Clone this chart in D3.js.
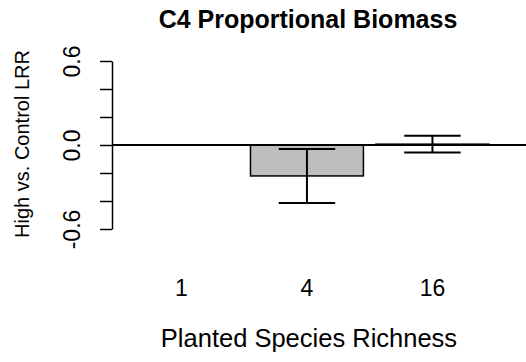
<!DOCTYPE html>
<html>
<head>
<meta charset="utf-8">
<script src="https://cdn.jsdelivr.net/npm/d3@7"></script>
<style>
  body { margin: 0; background: #fff; }
  svg { display: block; font-family: "Liberation Sans", Arial, sans-serif; }
</style>
</head>
<body>
<svg id="chart" width="526" height="362"></svg>
<script>
// data
const categories = ['1', '4', '16'];
const means = [0.0, -0.221, 0.006];
const stdErrs = [0.0, 0.193, 0.06];
const yTicks = [-0.6, -0.4, -0.2, 0.0, 0.2, 0.4, 0.6];
const yTickLabels = {'-0.6': '-0.6', '0': '0.0', '0.6': '0.6'};

const data = categories.map((c, i) => ({cat: c, mean: means[i], se: stdErrs[i]}));

const svg = d3.select('#chart');
const width = 526;

const x = d3.scaleBand()
    .domain(categories)
    .range([118.7, 495.2])
    .paddingInner(0.1)
    .paddingOuter(0.05);

const y = d3.scaleLinear()
    .domain([-0.6, 0.6])
    .range([229, 61]);

// bars
svg.append('g').selectAll('rect')
    .data(data)
    .join('rect')
    .attr('x', d => x(d.cat))
    .attr('width', x.bandwidth())
    .attr('y', d => y(Math.max(0, d.mean)))
    .attr('height', d => Math.abs(y(d.mean) - y(0)))
    .attr('fill', '#bebebe')
    .attr('stroke', '#000')
    .attr('stroke-width', 1.5);

// zero reference line
svg.append('line')
    .attr('x1', 112).attr('x2', width)
    .attr('y1', y(0)).attr('y2', y(0))
    .attr('stroke', '#000')
    .attr('stroke-width', 2);

// error bars
const capHalf = x.bandwidth() / 4;
const err = svg.append('g')
    .attr('stroke', '#000')
    .attr('stroke-width', 2)
    .selectAll('g')
    .data(data.filter(d => d.se > 0))
    .join('g')
    .attr('transform', d => `translate(${x(d.cat) + x.bandwidth() / 2},0)`);

err.append('line')
    .attr('y1', d => y(d.mean + d.se))
    .attr('y2', d => y(d.mean - d.se));
err.append('line')
    .attr('x1', -capHalf).attr('x2', capHalf)
    .attr('y1', d => y(d.mean + d.se)).attr('y2', d => y(d.mean + d.se));
err.append('line')
    .attr('x1', -capHalf).attr('x2', capHalf)
    .attr('y1', d => y(d.mean - d.se)).attr('y2', d => y(d.mean - d.se));

// y axis, R style: rotated labels, only some labelled
const yAxis = d3.axisLeft(y)
    .tickValues(yTicks)
    .tickSize(12)
    .tickSizeOuter(0)
    .tickFormat(d => yTickLabels[String(d)] || '');

const yAxisG = svg.append('g')
    .attr('transform', 'translate(112,0)')
    .call(yAxis);
yAxisG.select('.domain').attr('stroke-width', 1.5);
yAxisG.selectAll('.tick line').attr('stroke-width', 1.5);
yAxisG.selectAll('.tick text')
    .attr('x', 0).attr('y', 0).attr('dy', null)
    .attr('transform', 'translate(-32,0) rotate(-90)')
    .attr('text-anchor', 'middle')
    .attr('font-size', 23)
    .attr('font-family', '"Liberation Sans", Arial, sans-serif')
    .attr('fill', '#000');

// x category labels (no axis line)
svg.append('g').selectAll('text')
    .data(categories)
    .join('text')
    .attr('x', d => x(d) + x.bandwidth() / 2)
    .attr('y', 296)
    .attr('text-anchor', 'middle')
    .attr('font-size', 23)
    .text(d => d);

// title and axis titles
svg.append('text')
    .attr('x', 308).attr('y', 28)
    .attr('text-anchor', 'middle')
    .attr('font-size', 25)
    .attr('font-weight', 'bold')
    .text('C4 Proportional Biomass');

svg.append('text')
    .attr('x', 309).attr('y', 347)
    .attr('text-anchor', 'middle')
    .attr('font-size', 25.5)
    .text('Planted Species Richness');

svg.append('text')
    .attr('transform', 'translate(29,144) rotate(-90)')
    .attr('text-anchor', 'middle')
    .attr('font-size', 20)
    .text('High vs. Control LRR');
</script>
</body>
</html>
